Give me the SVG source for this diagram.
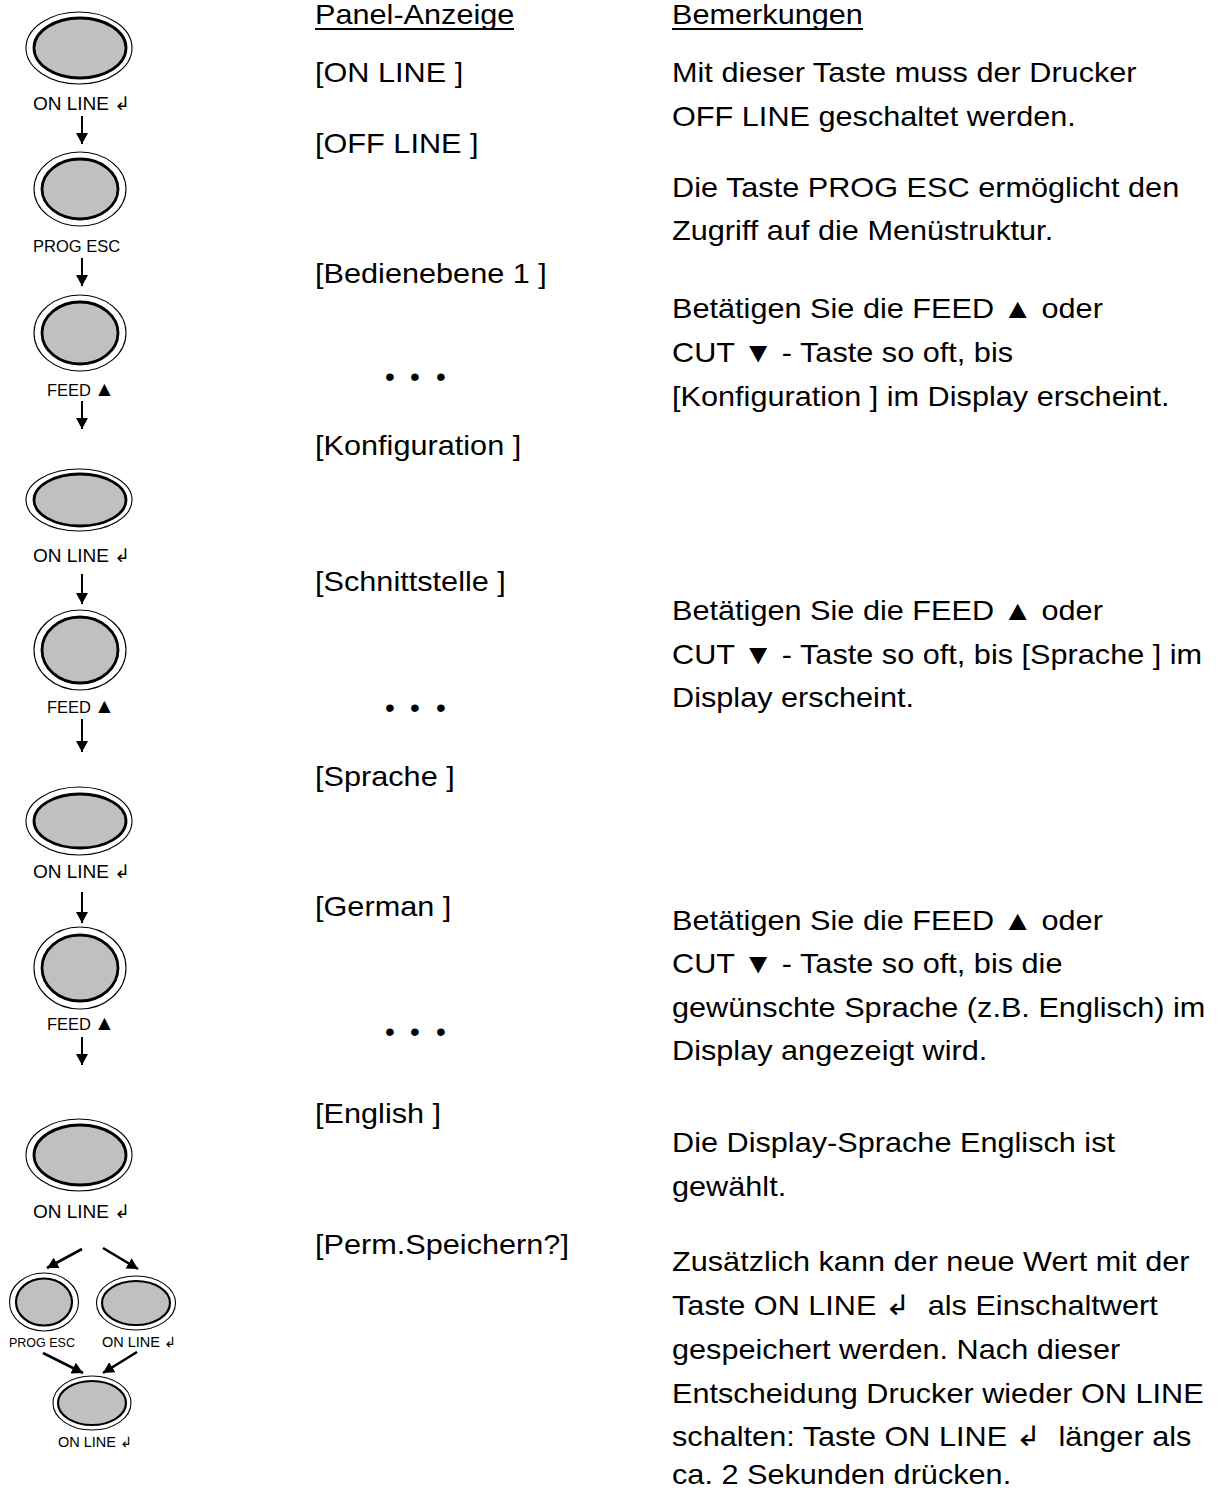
<svg xmlns="http://www.w3.org/2000/svg" width="1219" height="1488" viewBox="0 0 1219 1488">
<defs>
<style>
.outer{fill:#ffffff;stroke:#000;stroke-width:1.1}
.inner{fill:#c0c0c0;stroke:#000;stroke-width:2.8}
.innerS{fill:#c0c0c0;stroke:#000;stroke-width:2.2}
.lbl{font-family:"Liberation Sans","DejaVu Sans",sans-serif;fill:#000}
.tri{font-size:21px}
.main{font-family:"Liberation Sans","DejaVu Sans",sans-serif;font-size:28px;fill:#000}
.conn{stroke:#000;stroke-width:2;fill:none}
.connD{stroke:#000;stroke-width:2.6;fill:none}
.ul{stroke:#000;stroke-width:2}
</style>
<marker id="ah" markerUnits="userSpaceOnUse" viewBox="0 0 11 12" markerWidth="11" markerHeight="12" refX="11" refY="6" orient="auto">
<path d="M0,0 L11,6 L0,12 z" fill="#000"/>
</marker>
</defs>
<rect x="0" y="0" width="1219" height="1488" fill="#ffffff"/>

<!-- Left column button nodes -->
<g id="btn1">
<ellipse class="outer" cx="79" cy="48" rx="53" ry="36"/>
<ellipse class="inner" cx="80" cy="48" rx="46" ry="30"/>
<text class="lbl" x="33" y="110" font-size="19">ON LINE ↲</text>
</g>
<g id="btn2">
<ellipse class="outer" cx="80" cy="189" rx="46" ry="37"/>
<ellipse class="inner" cx="80" cy="189" rx="38" ry="30"/>
<text class="lbl" x="33" y="252" font-size="16.5">PROG ESC</text>
</g>
<g id="btn3">
<ellipse class="outer" cx="80" cy="333" rx="46" ry="38"/>
<ellipse class="inner" cx="80" cy="333" rx="38" ry="31"/>
<text class="lbl" x="47" y="396" font-size="16.5">FEED <tspan class="tri" x="94">▲</tspan></text>
</g>
<g id="btn4">
<ellipse class="outer" cx="79" cy="500" rx="53" ry="31"/>
<ellipse class="inner" cx="80" cy="500" rx="46" ry="26"/>
<text class="lbl" x="33" y="562" font-size="19">ON LINE ↲</text>
</g>
<g id="btn5">
<ellipse class="outer" cx="80" cy="650" rx="46" ry="40"/>
<ellipse class="inner" cx="80" cy="650" rx="38" ry="33"/>
<text class="lbl" x="47" y="713" font-size="16.5">FEED <tspan class="tri" x="94">▲</tspan></text>
</g>
<g id="btn6">
<ellipse class="outer" cx="79" cy="821" rx="53" ry="34"/>
<ellipse class="inner" cx="80" cy="821" rx="46" ry="27"/>
<text class="lbl" x="33" y="878" font-size="19">ON LINE ↲</text>
</g>
<g id="btn7">
<ellipse class="outer" cx="80" cy="968" rx="46" ry="41"/>
<ellipse class="inner" cx="80" cy="968" rx="38" ry="33"/>
<text class="lbl" x="47" y="1030" font-size="16.5">FEED <tspan class="tri" x="94">▲</tspan></text>
</g>
<g id="btn8">
<ellipse class="outer" cx="79" cy="1155" rx="53" ry="36"/>
<ellipse class="inner" cx="80" cy="1155" rx="46" ry="30"/>
<text class="lbl" x="33" y="1218" font-size="19">ON LINE ↲</text>
</g>
<g id="btn9">
<ellipse class="outer" cx="44" cy="1302" rx="34.5" ry="29"/>
<ellipse class="innerS" cx="44" cy="1302" rx="28" ry="23.5"/>
<text class="lbl" x="9" y="1347" font-size="12.5">PROG ESC</text>
</g>
<g id="btn10">
<ellipse class="outer" cx="136" cy="1303" rx="39.5" ry="27"/>
<ellipse class="innerS" cx="136" cy="1303" rx="34" ry="22"/>
<text class="lbl" x="102" y="1347" font-size="14.5">ON LINE ↲</text>
</g>
<g id="btn11">
<ellipse class="outer" cx="92" cy="1403" rx="39" ry="27"/>
<ellipse class="innerS" cx="92" cy="1403" rx="34" ry="22"/>
<text class="lbl" x="58" y="1447" font-size="14.5">ON LINE ↲</text>
</g>

<!-- Connectors -->
<g id="connectors">
<line class="conn" x1="82" y1="116" x2="82" y2="144" marker-end="url(#ah)"/>
<line class="conn" x1="82" y1="258" x2="82" y2="286" marker-end="url(#ah)"/>
<line class="conn" x1="82" y1="401" x2="82" y2="429" marker-end="url(#ah)"/>
<line class="conn" x1="82" y1="574" x2="82" y2="604" marker-end="url(#ah)"/>
<line class="conn" x1="82" y1="719" x2="82" y2="752" marker-end="url(#ah)"/>
<line class="conn" x1="82" y1="892" x2="82" y2="923" marker-end="url(#ah)"/>
<line class="conn" x1="82" y1="1037" x2="82" y2="1065" marker-end="url(#ah)"/>
<line class="connD" x1="82" y1="1249" x2="47" y2="1268" marker-end="url(#ah)"/>
<line class="connD" x1="103" y1="1248" x2="138" y2="1269" marker-end="url(#ah)"/>
<line class="connD" x1="43" y1="1353" x2="83" y2="1373" marker-end="url(#ah)"/>
<line class="connD" x1="137" y1="1352" x2="103" y2="1373" marker-end="url(#ah)"/>
</g>

<!-- Panel-Anzeige column -->
<g id="panel-column">
<line class="ul" x1="315" y1="29" x2="514" y2="29"/>
<g transform="translate(315,0) scale(1.095,1)">
<text class="main" x="0" y="24">Panel-Anzeige</text>
<text class="main" x="0" y="82">[ON LINE ]</text>
<text class="main" x="0" y="153">[OFF LINE ]</text>
<text class="main" x="0" y="283">[Bedienebene 1 ]</text>
<text class="main" x="0" y="455">[Konfiguration ]</text>
<text class="main" x="0" y="591">[Schnittstelle ]</text>
<text class="main" x="0" y="786">[Sprache ]</text>
<text class="main" x="0" y="916">[German ]</text>
<text class="main" x="0" y="1123">[English ]</text>
<text class="main" x="0" y="1254">[Perm.Speichern?]</text>
</g>
<text class="main" font-size="42" text-anchor="middle" x="390 415 441" y="386">•••</text>
<text class="main" font-size="42" text-anchor="middle" x="390 415 441" y="717">•••</text>
<text class="main" font-size="42" text-anchor="middle" x="390 415 441" y="1041">•••</text>
</g>

<!-- Bemerkungen column -->
<g id="remarks-column">
<line class="ul" x1="672" y1="29" x2="863" y2="29"/>
<g transform="translate(672,0) scale(1.095,1)">
<text class="main" x="0" y="24">Bemerkungen</text>
<text class="main" x="0" y="82">Mit dieser Taste muss der Drucker</text>
<text class="main" x="0" y="126">OFF LINE geschaltet werden.</text>
<text class="main" x="0" y="197">Die Taste PROG ESC ermöglicht den</text>
<text class="main" x="0" y="240">Zugriff auf die Menüstruktur.</text>
<text class="main" x="0" y="318">Betätigen Sie die FEED ▲ oder</text>
<text class="main" x="0" y="362">CUT ▼ - Taste so oft, bis</text>
<text class="main" x="0" y="406">[Konfiguration ] im Display erscheint.</text>
<text class="main" x="0" y="620">Betätigen Sie die FEED ▲ oder</text>
<text class="main" x="0" y="664">CUT ▼ - Taste so oft, bis [Sprache ] im</text>
<text class="main" x="0" y="707">Display erscheint.</text>
<text class="main" x="0" y="930">Betätigen Sie die FEED ▲ oder</text>
<text class="main" x="0" y="973">CUT ▼ - Taste so oft, bis die</text>
<text class="main" x="0" y="1017">gewünschte Sprache (z.B. Englisch) im</text>
<text class="main" x="0" y="1060">Display angezeigt wird.</text>
<text class="main" x="0" y="1152">Die Display-Sprache Englisch ist</text>
<text class="main" x="0" y="1196">gewählt.</text>
<text class="main" x="0" y="1271">Zusätzlich kann der neue Wert mit der</text>
<text class="main" x="0" y="1315" xml:space="preserve">Taste ON LINE ↲  als Einschaltwert</text>
<text class="main" x="0" y="1359">gespeichert werden. Nach dieser</text>
<text class="main" x="0" y="1403">Entscheidung Drucker wieder ON LINE</text>
<text class="main" x="0" y="1446" xml:space="preserve">schalten: Taste ON LINE ↲  länger als</text>
<text class="main" x="0" y="1484">ca. 2 Sekunden drücken.</text>
</g>
</g>
</svg>
